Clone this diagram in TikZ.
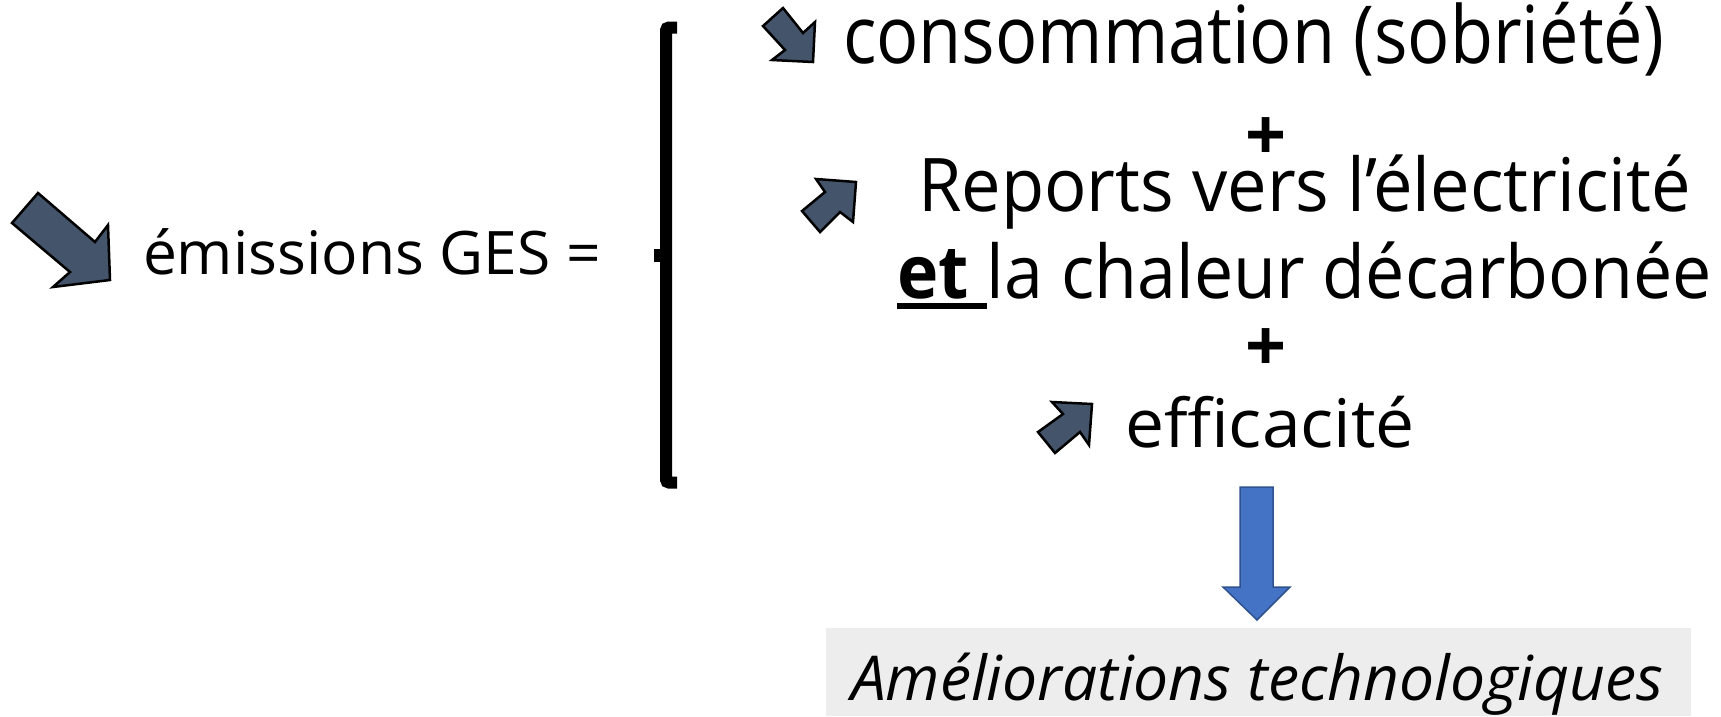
\documentclass[tikz,border=0pt]{standalone}
\usepackage{fontspec}
\setmainfont{Open Sans}
\usepackage{graphicx}
\definecolor{slate}{HTML}{44546A}
\definecolor{blueA}{HTML}{4472C4}
\definecolor{blueB}{HTML}{2F528F}
\definecolor{boxgray}{HTML}{EDEDED}
\newcommand\fitw[2]{\resizebox{#1}{\height}{#2}}
\newcommand\ulbox[1]{\setbox0\hbox{#1}\rlap{\raisebox{-11pt}{\rule{\wd0}{6.5pt}}}\box0}
\begin{document}
\begin{tikzpicture}[x=1pt,y=-1pt,
  txt/.style={anchor=base west, inner sep=0pt, outer sep=0pt},
  darrow/.style={fill=slate, draw=black, line width=2.5pt, line join=miter},
  barrow/.style={fill=blueA, draw=blueB, line width=1.5pt, line join=miter},
  bigplus/.style={inner sep=0pt, font=\fontsize{72}{86}\selectfont\bfseries}]
\fill[white] (0,0) rectangle (1721,716);
\useasboundingbox (0,0) rectangle (1721,716);

% arrows
\filldraw[darrow] (12,223) -- (38,193) -- (95,242) -- (108,225) -- (110,280) -- (53,287) -- (70,272) -- cycle;
\filldraw[darrow] (763,26) -- (783,8) -- (803,33) -- (815,22) -- (813,62) -- (772,60) -- (785,50) -- cycle;
\filldraw[darrow] (802,211) -- (825,192) -- (816,179) -- (856,182) -- (853,222) -- (840,212) -- (820,232) -- cycle;
\filldraw[darrow] (1038,432) -- (1063,414) -- (1052,402) -- (1092,404) -- (1089,445) -- (1080,432) -- (1055,453) -- cycle;

% bracket
\draw[line width=12pt, rounded corners=3pt] (677,27.5) -- (666,27.5) -- (666,482.5) -- (677,482.5);
\fill (654,249) rectangle (666,262);

% blue arrow and box
\filldraw[barrow] (1240,487) -- (1273,487) -- (1273,587) -- (1290,587) -- (1257,620) -- (1223,587) -- (1240,587) -- cycle;
\fill[boxgray] (826,628) rectangle (1691,716);

% texts
\node[txt] (ges) at (143,274) {\fontsize{60}{72}\selectfont\fitw{458pt}{émissions GES =}};
\node[txt] (conso) at (843,63) {\fontsize{80}{96}\selectfont\fitw{821pt}{consommation (sobriété)}};
\node[bigplus] (p1) at (1266,139) {+};
\node[txt] (rep) at (918,211) {\fontsize{74}{88}\selectfont\fitw{773pt}{Reports vers l’électricité}};
\node[txt] (chal) at (897,298) {\fontsize{74}{88}\selectfont\fitw{815pt}{\ulbox{\bfseries et }la chaleur décarbonée}};
\node[bigplus] (p2) at (1266,350) {+};
\node[txt] (eff) at (1125,447) {\fontsize{67}{80}\selectfont\fitw{290pt}{efficacité}};
\node[txt] (amel) at (851,700) {\fontsize{62}{74}\selectfont\itshape\fitw{812pt}{Améliorations technologiques}};
\end{tikzpicture}
\end{document}
